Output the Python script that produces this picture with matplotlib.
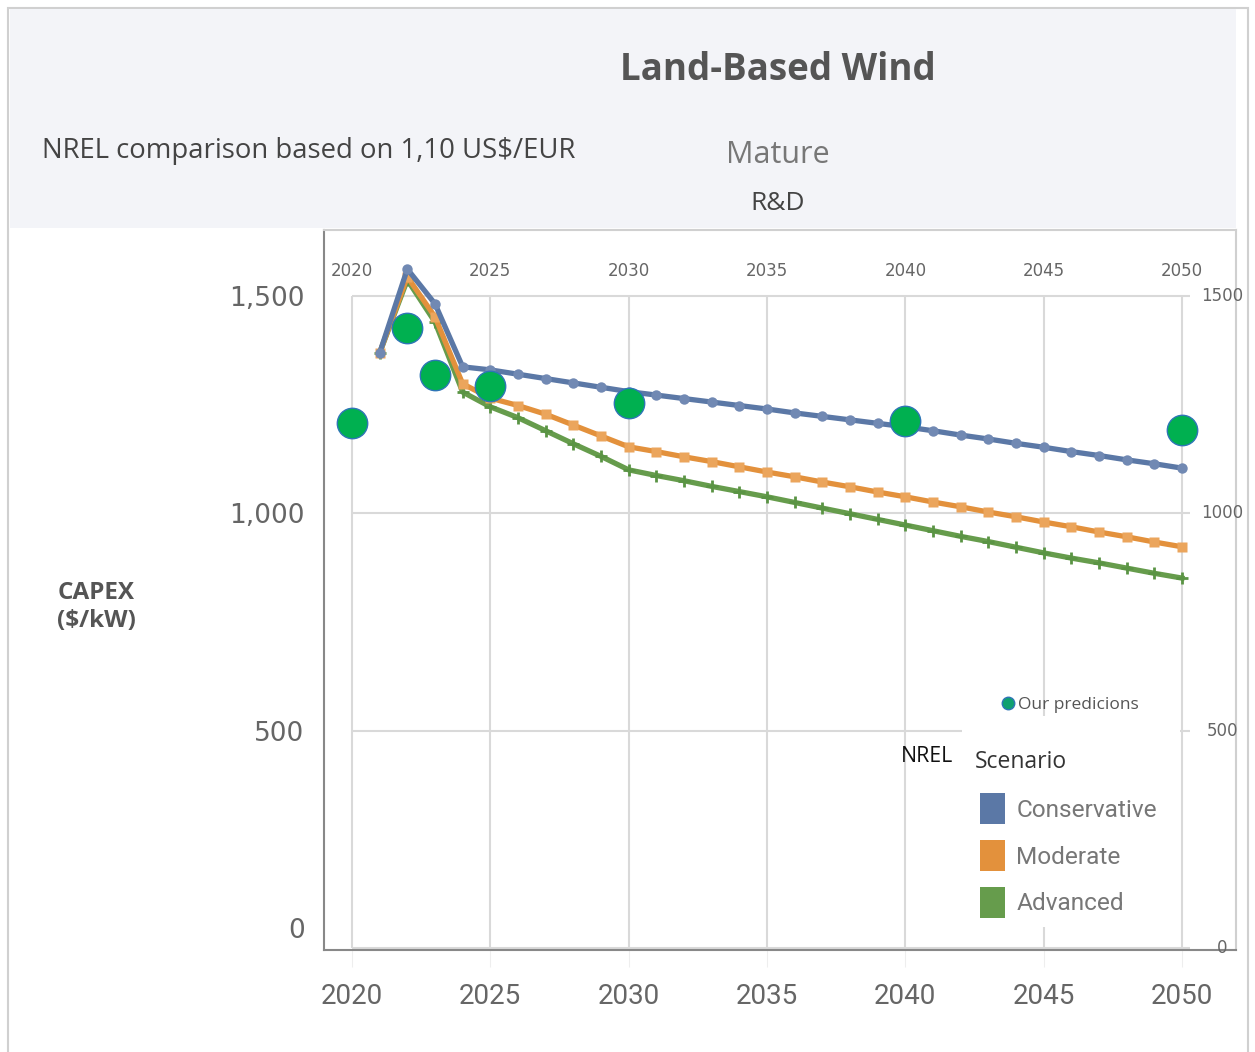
import numpy as np
import matplotlib.pyplot as plt
from matplotlib.patches import Rectangle, Patch
from matplotlib.lines import Line2D
import matplotlib.transforms as mtransforms

# NREL scenarios (US$/kW)
years = list(range(2021, 2051))
conservative = [1369, 1562, 1482, 1337, 1330, 1320, 1310, 1300, 1290, 1280,
                1272, 1264, 1256, 1248, 1240, 1231, 1223, 1215, 1207, 1199,
                1190, 1180, 1171, 1161, 1152, 1142, 1133, 1123, 1114, 1104]
moderate = [1369, 1544, 1452, 1298, 1265, 1248, 1228, 1203, 1178, 1153,
            1142, 1130, 1119, 1107, 1095, 1084, 1072, 1061, 1049, 1038,
            1026, 1015, 1003, 992, 980, 969, 957, 946, 934, 923]
advanced = [1369, 1537, 1440, 1279, 1245, 1220, 1190, 1160, 1131, 1100,
            1087, 1075, 1062, 1050, 1038, 1025, 1012, 999, 986, 973,
            960, 947, 935, 922, 909, 897, 886, 874, 862, 851]

pred_years = [2020, 2022, 2023, 2025, 2030, 2040, 2050]
pred_vals = [1208, 1427, 1318, 1293, 1254, 1213, 1192]

tick_years = [2020, 2025, 2030, 2035, 2040, 2045, 2050]
tick_vals = [0, 500, 1000, 1500]
left_labels = ['0', '500', '1,000', '1,500']

W, H = 1255, 1052
fig = plt.figure(figsize=(W / 100, H / 100), dpi=100)


def fx(x):
    return x / W


def fy(y):
    return 1 - y / H


# frame and header band
fig.patches.append(Rectangle((fx(8), fy(1060)), fx(1248) - fx(8), fy(8) - fy(1060),
                             transform=fig.transFigure, facecolor='none',
                             edgecolor='#d0d0d0', lw=1.5, zorder=-2))
fig.patches.append(Rectangle((fx(10), fy(228)), fx(1236) - fx(10), fy(9) - fy(228),
                             transform=fig.transFigure, facecolor='#f3f4f8',
                             edgecolor='none', zorder=-2))

fig.text(fx(778), fy(70), 'Land-Based Wind', ha='center', va='center',
         fontsize=26.5, fontweight='bold', color='#555555', family='Open Sans')
fig.text(fx(42), fy(151), 'NREL comparison based on 1,10 US$/EUR', ha='left', va='center',
         fontsize=19.8, color='#444444', family='Open Sans')
fig.text(fx(778), fy(155), 'Mature', ha='center', va='center',
         fontsize=22, color='#777777', family='Open Sans')
fig.text(fx(778), fy(203), 'R&D', ha='center', va='center',
         fontsize=19, color='#444444', family='Open Sans')
fig.text(fx(96), fy(607), 'CAPEX\n($/kW)', ha='center', va='center', linespacing=1.25,
         fontsize=17.5, fontweight='bold', color='#555555', family='Open Sans')

# chart area
ax = fig.add_axes([fx(324), fy(950), fx(1236) - fx(324), fy(230) - fy(950)])
ax.set_facecolor('none')
ax.set_xlim(2018.988, 2051.952)
ax.set_ylim(-4.6, 1651.8)

for s in ['top', 'right']:
    ax.spines[s].set_color('#d0d0d0')
    ax.spines[s].set_linewidth(1.5)
for s in ['left', 'bottom']:
    ax.spines[s].set_color('#888888')
    ax.spines[s].set_linewidth(1.5)

# gridlines of the inner chart
ax.vlines(tick_years, 0, 1500, color='#d9d9d9', lw=1.5, zorder=1)
ax.hlines(tick_vals, 2020, 2050.3, color='#d9d9d9', lw=1.5, zorder=1)

ax.set_xticks(tick_years)
ax.set_xticklabels([str(y) for y in tick_years], fontsize=20, color='#666666',
                   family='Roboto')
ax.tick_params(axis='x', length=12, color='#eeeeee', pad=12)
ax.set_yticks(tick_vals)
ax.set_yticklabels(left_labels, fontsize=19, color='#666666')
ax.tick_params(axis='y', length=0, pad=14)
lbl0 = ax.get_yticklabels()[0]
lbl0.set_transform(lbl0.get_transform() + mtransforms.ScaledTranslation(0, 0.2, fig.dpi_scale_trans))

# secondary labels (top and right)
for yr in tick_years:
    ax.text(yr, 1557, str(yr), ha='center', va='center', fontsize=12, color='#666666')
for v in tick_vals:
    ax.text(2051.45, v, str(v), ha='center', va='center', fontsize=12, color='#666666')

ax.plot(years, advanced, color='#669c4c', lw=3.8, marker='+', ms=8, mew=2,
        mec='#5a9444', zorder=3)
ax.plot(years, moderate, color='#e3913c', lw=3.8, marker='s', ms=6.5,
        mfc='#eba55c', mec='none', zorder=3)
ax.plot(years, conservative, color='#5b78a6', lw=3.8, marker='o', ms=7.5,
        mfc='#7189b3', mec='none', zorder=3)

ax.scatter(pred_years, pred_vals, s=480, color='#00b050', edgecolor='#2e75b6',
           lw=1, zorder=5)

# legends
leg_box = Rectangle((2042.05, 48), 7.88, 485, facecolor='white', edgecolor='none', zorder=2)
ax.add_patch(leg_box)

handles = [Patch(facecolor='#5b78a6', edgecolor='none'),
           Patch(facecolor='#e3913c', edgecolor='none'),
           Patch(facecolor='#669c4c', edgecolor='none')]
leg = ax.legend(handles, ['Conservative', 'Moderate', 'Advanced'],
                loc='upper left', bbox_to_anchor=(fx(958), fy(774)),
                bbox_transform=fig.transFigure, frameon=False,
                handlelength=1.03, handleheight=1.25, handletextpad=0.45,
                labelspacing=0.84, prop={'size': 17.6, 'family': 'Roboto'},
                labelcolor='#777777')
for p in leg.get_patches():
    p.set_height(p.get_height() * 1.2)
    p.set_y(p.get_y() - p.get_height() * 0.08)
ax.add_artist(leg)

fig.text(fx(975), fy(762), 'Scenario', ha='left', va='center', fontsize=16.5,
         color='#333333', family='Open Sans')

ax.legend([Line2D([], [], ls='none', marker='o', ms=9, mfc='#10a070', mec='#2e75b6')],
          ['Our predicions'], loc='center left', bbox_to_anchor=(fx(987), fy(705)),
          bbox_transform=fig.transFigure, frameon=False, handlelength=0.6,
          handletextpad=0.3, prop={'size': 12.5, 'family': 'Open Sans'}, labelcolor='#555555')

fig.text(fx(927), fy(756), 'NREL', ha='center', va='center', fontsize=15.3,
         color='#111111', family='Open Sans')

plt.savefig('out.png', dpi=100)
